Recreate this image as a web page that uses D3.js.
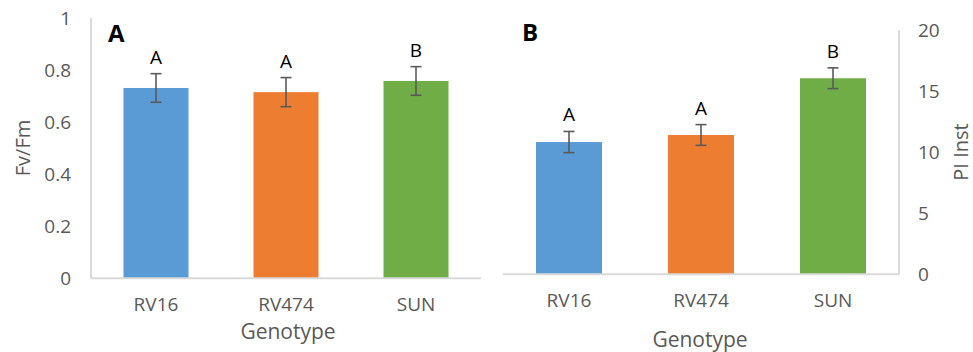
<!DOCTYPE html>
<html><head><meta charset="utf-8">
<script src="https://cdn.jsdelivr.net/npm/d3@7"></script>
<style>body{margin:0;background:#fff}svg{display:block}text{font-family:"Open Sans",sans-serif}</style>
</head><body><svg id="c" width="973" height="352"></svg>
<script>
const categories = ["RV16","RV474","SUN"];
const colors = ["#5B9BD5","#ED7D31","#70AD47"];
const fvfmValues = [0.732, 0.716, 0.759];
const fvfmErrors = [0.055, 0.056, 0.055];
const fvfmLetters = ["A","A","B"];
const fvfmTicks = [0,0.2,0.4,0.6,0.8,1];
const fvfmTickLabels = ["0","0.2","0.4","0.6","0.8","1"];
const piValues = [10.84, 11.42, 16.07];
const piErrors = [0.87, 0.85, 0.85];
const piLetters = ["A","A","B"];
const piTicks = [0,5,10,15,20];
const piTickLabels = ["0","5","10","15","20"];

const svg = d3.select("#c");
const gray = "#595959", axisCol = "#d9d9d9";

function panel(o){
  const x = d3.scaleBand().domain(categories).range([o.x0,o.x1]).paddingInner(0.5).paddingOuter(0.25);
  const y = d3.scaleLinear().domain([0,o.max]).range([o.yb,o.yt]);
  const g = svg.append("g");
  g.selectAll("rect.b").data(o.values).join("rect")
    .attr("x",(d,i)=>x(categories[i])).attr("width",x.bandwidth())
    .attr("y",d=>y(d)).attr("height",d=>y(0)-y(d)).attr("fill",(d,i)=>colors[i]);
  g.append("line").attr("x1",o.x0).attr("x2",o.x1).attr("y1",y(0)).attr("y2",y(0)).attr("stroke",axisCol).attr("stroke-width",2);
  const ax = o.side==="left"?o.x0:o.x1;
  g.append("line").attr("x1",ax).attr("x2",ax).attr("y1",y(0)).attr("y2",y(o.max)).attr("stroke",axisCol).attr("stroke-width",2);
  const yAxis = (o.side==="left"?d3.axisLeft(y):d3.axisRight(y)).tickValues(o.ticks).tickSize(0)
    .tickFormat((d,i)=>o.tickLabels[i]).tickPadding(o.side==="left"?20:19);
  const ya = g.append("g").attr("transform",`translate(${ax},0)`).call(yAxis);
  ya.select(".domain").remove();
  ya.selectAll("text").attr("fill",gray).style("font-size","19px").style("font-family","'Open Sans',sans-serif");
  const xAxis = d3.axisBottom(x).tickSize(0).tickPadding(o.xpad);
  const xa = g.append("g").attr("transform",`translate(0,${y(0)})`).call(xAxis);
  xa.select(".domain").remove();
  xa.selectAll("text").attr("fill",gray).style("font-size","19px").style("font-family","'Open Sans',sans-serif");
  const eb = g.selectAll("g.e").data(o.values).join("g").attr("stroke","#5a5a5a").attr("stroke-width",1.6);
  eb.append("line").attr("x1",(d,i)=>x(categories[i])+x.bandwidth()/2).attr("x2",(d,i)=>x(categories[i])+x.bandwidth()/2)
    .attr("y1",(d,i)=>y(d+o.errors[i])).attr("y2",(d,i)=>y(d-o.errors[i]));
  [1,-1].forEach(s=>{
    eb.append("line").attr("x1",(d,i)=>x(categories[i])+x.bandwidth()/2-5.5).attr("x2",(d,i)=>x(categories[i])+x.bandwidth()/2+5.5)
      .attr("y1",(d,i)=>y(d+s*o.errors[i])).attr("y2",(d,i)=>y(d+s*o.errors[i]));
  });
  g.selectAll("text.l").data(o.values).join("text").attr("class","l")
    .attr("x",(d,i)=>x(categories[i])+x.bandwidth()/2).attr("y",(d,i)=>y(d+o.errors[i])-10)
    .attr("text-anchor","middle").attr("fill","#000").style("font-size","19px").text((d,i)=>o.letters[i]);
  g.append("text").attr("x",o.genX).attr("y",o.genY).attr("text-anchor","middle").attr("fill",gray).style("font-size","21px").text("Genotype");
  g.append("text").attr("transform",`translate(${o.ytX},${o.ytY}) rotate(-90)`).attr("text-anchor","middle")
    .attr("dominant-baseline","central").attr("fill",gray).style("font-size","20px").text(o.ytitle);
  g.append("text").attr("x",o.panX).attr("y",o.panY).attr("fill","#000").style("font-size","24px").style("font-weight","bold").text(o.panel);
}

panel({x0:91,x1:481,yb:278.3,yt:18.3,max:1,values:fvfmValues,errors:fvfmErrors,letters:fvfmLetters,
  ticks:fvfmTicks,tickLabels:fvfmTickLabels,side:"left",xpad:19,genX:288,genY:339,ytitle:"Fv/Fm",ytX:22,ytY:148,
  panel:"A",panX:108,panY:42});
panel({x0:503,x1:899,yb:274.3,yt:30.3,max:20,values:piValues,errors:piErrors,letters:piLetters,
  ticks:piTicks,tickLabels:piTickLabels,side:"right",xpad:19,genX:700,genY:347,ytitle:"PI Inst",ytX:960,ytY:152,
  panel:"B",panX:522,panY:41});
</script></body></html>
